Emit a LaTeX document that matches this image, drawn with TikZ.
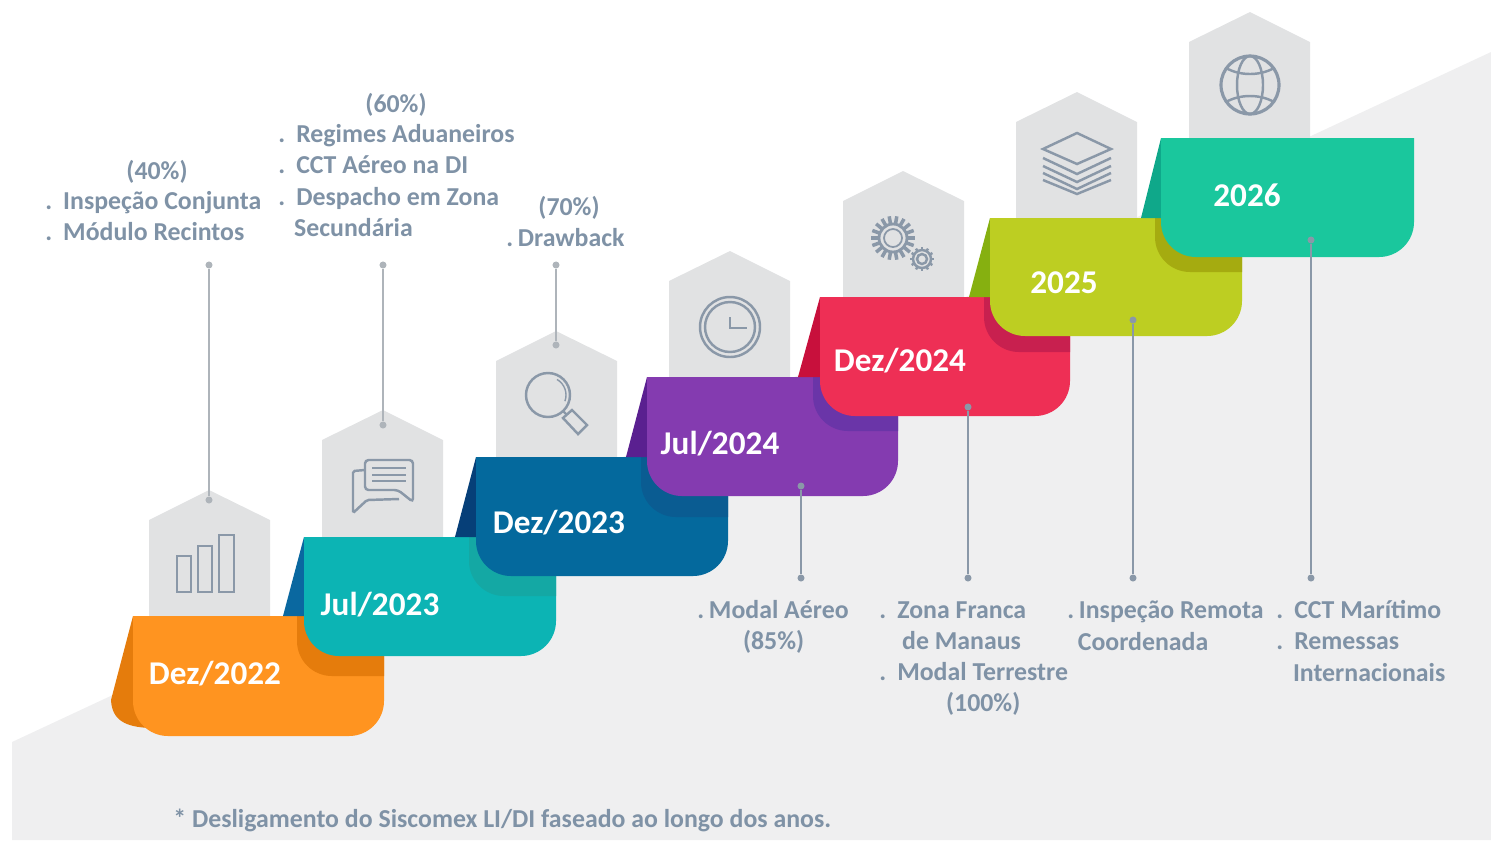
\documentclass[tikz,border=0pt]{standalone}
\usepackage{fontspec}
\setmainfont{Carlito}
\usepackage{xcolor}
\usetikzlibrary{positioning}

\definecolor{bggray}{HTML}{EFEFF0}
\definecolor{taggray}{HTML}{E1E2E3}
\definecolor{iconline}{HTML}{8A98A8}
\definecolor{notetext}{HTML}{7F92A6}
\definecolor{leadline}{HTML}{AEB4BA}
\definecolor{orangebody}{HTML}{FF9420}
\definecolor{orangedark}{HTML}{E57C0C}
\definecolor{tealbody}{HTML}{0CB4B4}
\definecolor{tealdark}{HTML}{14A8A4}
\definecolor{tealfold}{HTML}{0A68A0}
\definecolor{bluebody}{HTML}{04699D}
\definecolor{bluedark}{HTML}{0A5C92}
\definecolor{bluefold}{HTML}{063F78}
\definecolor{purplebody}{HTML}{843BB0}
\definecolor{purpledark}{HTML}{6A35A8}
\definecolor{purplefold}{HTML}{5A2090}
\definecolor{redbody}{HTML}{EE2F55}
\definecolor{reddark}{HTML}{C8204F}
\definecolor{redfold}{HTML}{C8103C}
\definecolor{limebody}{HTML}{BDCE22}
\definecolor{limedark}{HTML}{A5AB10}
\definecolor{limefold}{HTML}{86B010}
\definecolor{minibody}{HTML}{1AC79D}
\definecolor{minifold}{HTML}{0FA88A}

\newcommand{\bul}{\makebox[10.2pt][l]{.}}
\newcommand{\nearbul}{\makebox[6.6pt][l]{.}}

\tikzset{
    tag/.style={fill=taggray},
    ribbonlabel/.style={inner sep=0pt, text=white, font=\fontsize{18.9}{22}\selectfont\bfseries},
    note/.style={inner sep=0pt, text=notetext, align=left, font=\fontsize{14.7}{17.8}\selectfont\bfseries},
    leader/.style={draw=leadline, line width=1.1pt},
    dotmark/.style={circle, fill=#1, inner sep=0pt, minimum size=4pt},
    icon/.style={draw=iconline, line width=1.4pt}
}

\begin{document}
\begin{tikzpicture}[x=0.02cm, y=-0.02cm]
        \useasboundingbox (0,0) rectangle (1491,840);
        \fill[bggray] (12,742) -- (1491,52) -- (1491,840) -- (12,840) -- cycle;

        % tags behind the steps
        \fill[tag] (149,616) -- (149,520) -- (209,490) -- (270,520) -- (270,616) -- cycle;
        \fill[tag] (322,537) -- (322,440) -- (383,410) -- (443,440) -- (443,537) -- cycle;
        \fill[tag] (496,457) -- (496,361) -- (556,331) -- (617,361) -- (617,457) -- cycle;
        \fill[tag] (669,377) -- (669,281) -- (730,251) -- (790,281) -- (790,377) -- cycle;
        \fill[tag] (843,297) -- (843,201) -- (903,171) -- (964,201) -- (964,297) -- cycle;
        \fill[tag] (1016,218) -- (1016,122) -- (1077,92) -- (1137,122) -- (1137,218) -- cycle;
        \fill[tag] (1189,138) -- (1189,42) -- (1250,12) -- (1310,42) -- (1310,138) -- cycle;

        % icons
        \draw[icon] (177,556) rectangle (191,592);
        \draw[icon] (198,546) rectangle (212,592);
        \draw[icon] (219,535) rectangle (234,592);

        \draw[icon, rounded corners=2pt] (365,460) -- (413,460) -- (413,502) -- (398,490) -- (365,490) -- cycle;
        \draw[icon, rounded corners=1pt] (365,470) -- (353,471) -- (353,513) -- (367,500) -- (399,499);
        \draw[icon, line width=0.8pt] (372,468) -- (406,468) (372,475) -- (406,475) (372,481) -- (406,481);

        \draw[icon] (548,395) circle (22);
        \draw[icon, line width=0.8pt] (548,395) ++(-60:18) arc (-60:20:18);
        \draw[icon] (563,411) -- (567,415);
        \draw[icon] (563,418) -- (572,410) -- (587,425) -- (578,434) -- cycle;

        \draw[icon] (730,327) circle (30);
        \draw[icon] (730,327) circle (25);
        \draw[icon] (730,317) -- (730,328) -- (747,328);

        \draw[icon, line width=1.6pt] (893,238) circle (14);
        \draw[icon, line width=1pt] (893,238) circle (9);
        \foreach \ang in {0,20,...,340} {
            \draw[icon, line width=2pt] (893,238) ++(\ang:14) -- ++(\ang:8);
        }
        \draw[icon] (922,259) circle (5);
        \draw[icon] (922,259) circle (9);
        \foreach \ang in {0,30,...,330} {
            \draw[icon] (922,259) ++(\ang:9) -- ++(\ang:3);
        }

        \draw[icon] (1077,133) -- (1111,149) -- (1077,164) -- (1043,149) -- cycle;
        \draw[icon] (1043,158) -- (1077,174) -- (1111,158);
        \draw[icon] (1043,166) -- (1077,182) -- (1111,166);
        \draw[icon] (1043,173) -- (1077,189) -- (1111,173);
        \draw[icon] (1043,180) -- (1077,194) -- (1111,180);

        \draw[icon, line width=1.8pt] (1250,85) circle (29);
        \draw[icon] (1250,85) ellipse (13 and 29);
        \draw[icon] (1226,68) .. controls (1240,76) and (1260,76) .. (1274,68);
        \draw[icon] (1226,102) .. controls (1240,94) and (1260,94) .. (1274,102);

        % upper leaders
        \node[dotmark=leadline] (up1a) at (209,265) {};
        \node[dotmark=leadline] (up1b) at (209,500) {};
        \node[dotmark=leadline] (up2a) at (383,265) {};
        \node[dotmark=leadline] (up2b) at (383,425) {};
        \node[dotmark=leadline] (up3a) at (556,265) {};
        \node[dotmark=leadline] (up3b) at (556,345) {};
        \draw[leader] (up1a) -- (up1b);
        \draw[leader] (up2a) -- (up2b);
        \draw[leader] (up3a) -- (up3b);

        % steps, lowest first
        \fill[orangedark] (133,616) -- (111,700) .. controls (112,720) and (125,727) .. (150,728) -- cycle;
        \fill[orangebody] (133,616) -- (384,616) [rounded corners=0.7cm] -- (384,736) -- (133,736) [sharp corners] -- cycle;
        \fill[orangedark] (297,616) -- (384,616) -- (384,676) [rounded corners=0.7cm] -- (297,676) [sharp corners] -- cycle;
        \fill[tealfold] (304,537) -- (283,616) -- (304,616) -- cycle;
        \fill[tealbody] (304,537) -- (556,537) [rounded corners=0.7cm] -- (556,656) -- (304,656) [sharp corners] -- cycle;
        \fill[tealdark] (469,537) -- (556,537) -- (556,596) [rounded corners=0.7cm] -- (469,596) [sharp corners] -- cycle;
        \fill[bluefold] (476,457) -- (455,537) -- (476,537) -- cycle;
        \fill[bluebody] (476,457) -- (728,457) [rounded corners=0.7cm] -- (728,576) -- (476,576) [sharp corners] -- cycle;
        \fill[bluedark] (641,457) -- (728,457) -- (728,517) [rounded corners=0.7cm] -- (641,517) [sharp corners] -- cycle;
        \fill[purplefold] (647,377) -- (626,457) -- (647,457) -- cycle;
        \fill[purplebody] (647,377) -- (898,377) [rounded corners=0.7cm] -- (898,496) -- (647,496) [sharp corners] -- cycle;
        \fill[purpledark] (813,377) -- (898,377) -- (898,431) [rounded corners=0.7cm] -- (813,431) [sharp corners] -- cycle;
        \fill[redfold] (820,297) -- (798,377) -- (820,377) -- cycle;
        \fill[redbody] (820,297) -- (1070,297) [rounded corners=0.7cm] -- (1070,416) -- (820,416) [sharp corners] -- cycle;
        \fill[reddark] (984,297) -- (1070,297) -- (1070,352) [rounded corners=0.7cm] -- (984,352) [sharp corners] -- cycle;
        \fill[limefold] (990,218) -- (969,297) -- (990,297) -- cycle;
        \fill[limebody] (990,218) -- (1242,218) [rounded corners=0.7cm] -- (1242,336) -- (990,336) [sharp corners] -- cycle;
        \fill[limedark] (1155,218) -- (1242,218) -- (1242,272) [rounded corners=0.7cm] -- (1155,272) [sharp corners] -- cycle;
        \fill[minifold] (1161,138) -- (1141,218) -- (1161,218) -- cycle;
        \fill[minibody] (1161,138) -- (1414,138) [rounded corners=0.7cm] -- (1414,257) -- (1161,257) [sharp corners] -- cycle;

        \node[ribbonlabel] (dez22) at (215,674) {Dez/2022};
        \node[ribbonlabel] (jul23) at (380,605) {Jul/2023};
        \node[ribbonlabel] (dez23) at (559,523) {Dez/2023};
        \node[ribbonlabel] (jul24) at (720,444) {Jul/2024};
        \node[ribbonlabel] (dez24) at (900,361) {Dez/2024};
        \node[ribbonlabel] (y25) at (1064,283) {2025};
        \node[ribbonlabel] (y26) at (1247,195) {2026};

        % lower leaders
        \node[dotmark=iconline] (low1a) at (801,486) {};
        \node[dotmark=iconline] (low1b) at (801,578) {};
        \node[dotmark=iconline] (low2a) at (968,407) {};
        \node[dotmark=iconline] (low2b) at (968,578) {};
        \node[dotmark=iconline] (low3a) at (1133,320) {};
        \node[dotmark=iconline] (low3b) at (1133,578) {};
        \node[dotmark=iconline] (low4a) at (1311,240) {};
        \node[dotmark=iconline] (low4b) at (1311,578) {};
        \draw[leader, draw=iconline] (low1a) -- (low1b);
        \draw[leader, draw=iconline] (low2a) -- (low2b);
        \draw[leader, draw=iconline] (low3a) -- (low3b);
        \draw[leader, draw=iconline] (low4a) -- (low4b);

        % notes
        \node[note] (pct40) at (157,172) {(40\%)};
        \node[note, anchor=north west] (list40) at (45,191) {\bul Inspeção Conjunta\\ \bul Módulo Recintos};
        \node[note] (pct60) at (396,105) {(60\%)};
        \node[note, anchor=north west] (list60) at (278,124) {\bul Regimes Aduaneiros\\ \bul CCT Aéreo na DI\\ \bul Despacho em Zona\\ \hspace*{9pt}Secundária};
        \node[note] (pct70) at (569,208) {(70\%)};
        \node[note, anchor=north west] (list70) at (506,228) {\nearbul Drawback};
        \node[note, anchor=north west] (list85) at (697,600) {\nearbul Modal Aéreo\\ \hspace*{26pt}(85\%)};
        \node[note, anchor=north west] (list100) at (879,601) {\bul Zona Franca\\ \hspace*{13pt}de Manaus\\ \bul Modal Terrestre\\ \hspace*{38pt}(100\%)};
        \node[note, anchor=north west] (listrem) at (1067,601) {\nearbul Inspeção Remota\\ \hspace*{6pt}Coordenada};
        \node[note, anchor=north west] (listcct) at (1276,600) {\bul CCT Marítimo\\ \bul Remessas\\ \hspace*{9.5pt}Internacionais};
        \node[note, anchor=west] (footnote) at (173,820) {* Desligamento do Siscomex LI/DI faseado ao longo dos anos.};
\end{tikzpicture}
\end{document}
